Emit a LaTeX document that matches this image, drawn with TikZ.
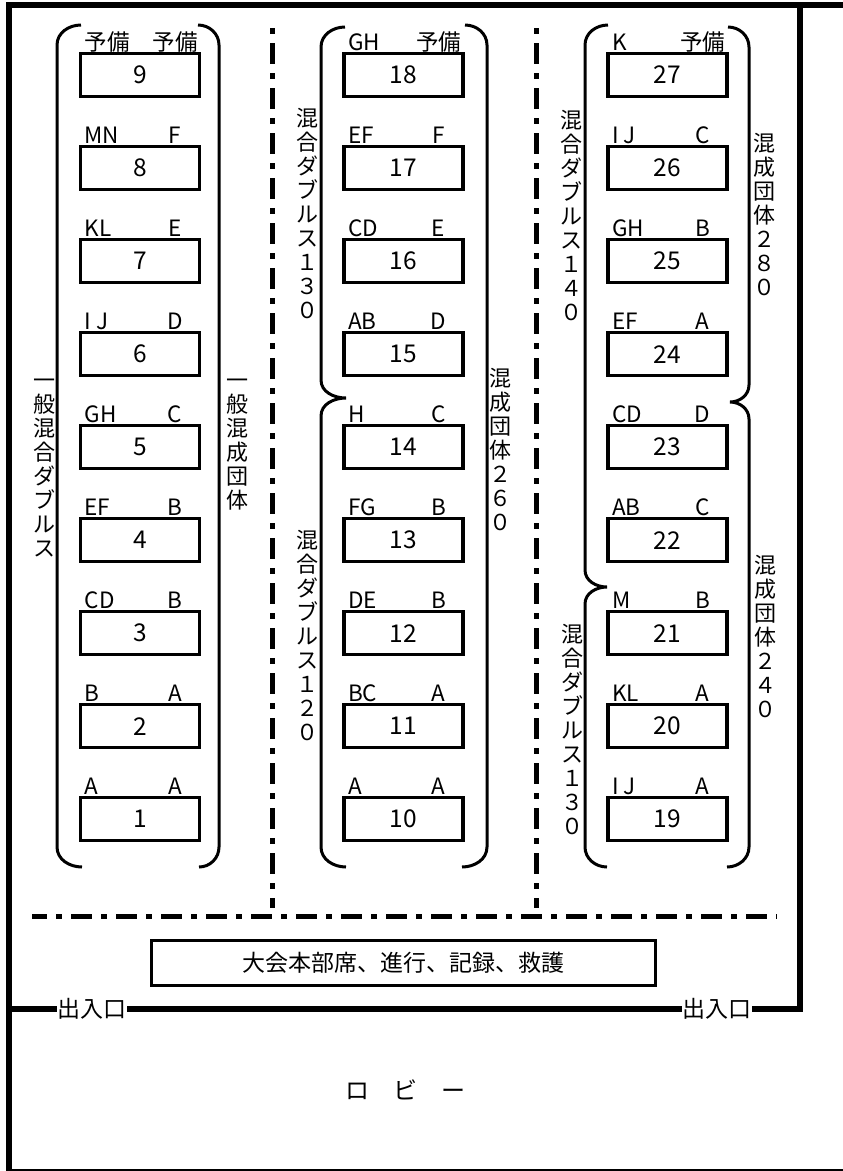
\documentclass[tikz,border=0pt]{standalone}
\usepackage{fontspec}
\setmainfont{Noto Sans CJK JP}
\usetikzlibrary{positioning}

\tikzset{
    court/.style={draw, line width=3.2pt, minimum width=119pt, minimum height=43pt,
        inner sep=0pt, outer sep=0pt, font=\fontsize{24.5}{24.5}\selectfont},
    tagl/.style={anchor=base west, xshift=4pt, yshift=3.5pt, inner sep=0pt,
        font=\fontsize{22.5}{22.5}\selectfont},
    tagr/.style={anchor=base, xshift=35pt, yshift=3.5pt, inner sep=0pt,
        font=\fontsize{22.5}{22.5}\selectfont},
    tags/.style 2 args={label={[tagl]north west:#1}, label={[tagr]north:#2}},
    vtext/.style={align=center, inner sep=0pt, font=\fontsize{22}{24}\selectfont},
    door/.style={inner sep=0.5pt, font=\fontsize{23}{23}\selectfont},
    brace/.style={line width=3pt},
    sepline/.style={line width=5pt, dash pattern=on 6pt off 9pt on 21pt off 9pt},
    wall/.style={line width=6pt},
}

\begin{document}
\begin{tikzpicture}[x=1pt, y=-1pt, node distance=50pt]
    \useasboundingbox (0,0) rectangle (843,1171);

    % courts, left column
    \node[court, tags={予備}{予備}] (c9) at (140,75.1) {9};
    \node[court, tags={MN}{F}, below=of c9] (c8) {8};
    \node[court, tags={KL}{E}, below=of c8] (c7) {7};
    \node[court, tags={I J}{D}, below=of c7] (c6) {6};
    \node[court, tags={GH}{C}, below=of c6] (c5) {5};
    \node[court, tags={EF}{B}, below=of c5] (c4) {4};
    \node[court, tags={CD}{B}, below=of c4] (c3) {3};
    \node[court, tags={B}{A}, below=of c3] (c2) {2};
    \node[court, tags={A}{A}, below=of c2] (c1) {1};

    % courts, middle column
    \node[court, tags={GH}{予備}] (c18) at (403.5,75.1) {18};
    \node[court, tags={EF}{F}, below=of c18] (c17) {17};
    \node[court, tags={CD}{E}, below=of c17] (c16) {16};
    \node[court, tags={AB}{D}, below=of c16] (c15) {15};
    \node[court, tags={H}{C}, below=of c15] (c14) {14};
    \node[court, tags={FG}{B}, below=of c14] (c13) {13};
    \node[court, tags={DE}{B}, below=of c13] (c12) {12};
    \node[court, tags={BC}{A}, below=of c12] (c11) {11};
    \node[court, tags={A}{A}, below=of c11] (c10) {10};

    % courts, right column
    \node[court, tags={K}{予備}] (c27) at (667.5,75.1) {27};
    \node[court, tags={I J}{C}, below=of c27] (c26) {26};
    \node[court, tags={GH}{B}, below=of c26] (c25) {25};
    \node[court, tags={EF}{A}, below=of c25] (c24) {24};
    \node[court, tags={CD}{D}, below=of c24] (c23) {23};
    \node[court, tags={AB}{C}, below=of c23] (c22) {22};
    \node[court, tags={M}{B}, below=of c22] (c21) {21};
    \node[court, tags={KL}{A}, below=of c21] (c20) {20};
    \node[court, tags={I J}{A}, below=of c20] (c19) {19};

    % event names
    \node[vtext] (mix1) at (44,468) {一\\般\\混\\合\\ダ\\ブ\\ル\\ス};
    \node[vtext] (team1) at (237,445) {一\\般\\混\\成\\団\\体};
    \node[vtext] (mix2a) at (307,213) {混\\合\\ダ\\ブ\\ル\\ス\\１\\３\\０};
    \node[vtext] (mix2b) at (307,635) {混\\合\\ダ\\ブ\\ル\\ス\\１\\２\\０};
    \node[vtext] (team2) at (500,449) {混\\成\\団\\体\\２\\６\\０};
    \node[vtext] (mix3a) at (571,215) {混\\合\\ダ\\ブ\\ル\\ス\\１\\４\\０};
    \node[vtext] (mix3b) at (572,729) {混\\合\\ダ\\ブ\\ル\\ス\\１\\３\\０};
    \node[vtext] (team3a) at (764,214) {混\\成\\団\\体\\２\\８\\０};
    \node[vtext] (team3b) at (765,636) {混\\成\\団\\体\\２\\４\\０};

    % brackets
    \draw[brace] (81,25) to[out=180,in=90] (57,45) -- (57,847) to[out=-90,in=180] (82,867);
    \draw[brace] (198,25) to[out=0,in=90] (219,45) -- (219,847) to[out=-90,in=0] (199,867);
    \draw[brace] (345,27) to[out=180,in=90] (321,47) -- (321,380)
        to[out=-90,in=180] (346,398) to[out=180,in=90] (321,416)
        -- (321,847) to[out=-90,in=180] (346,867);
    \draw[brace] (465,25) to[out=0,in=90] (487,45) -- (487,847) to[out=-90,in=0] (462,867);
    \draw[brace] (608,25) to[out=180,in=90] (585,45) -- (585,570)
        to[out=-90,in=180] (607,587) to[out=180,in=90] (585,604)
        -- (585,847) to[out=-90,in=180] (607,867);
    \draw[brace] (728,27) to[out=0,in=90] (749,47) -- (749,385)
        to[out=-90,in=0] (730,402) to[out=0,in=90] (749,419)
        -- (749,847) to[out=-90,in=0] (727,867);

    % dash-dot separators
    \draw[sepline] (272,28) -- (272,908);
    \draw[sepline] (536,28) -- (536,908);
    \draw[sepline, dash phase=21pt] (32,916) -- (777,916);

    % headquarters
    \node[draw, line width=3pt, minimum width=504pt, minimum height=45pt,
        font=\fontsize{23}{23}\selectfont] (hq) at (403.5,963) {大会本部席、進行、記録、救護};

    % walls and doors
    \node[door] (door1) at (92,1009) {出入口};
    \node[door] (door2) at (717,1009) {出入口};
    \draw[wall] (9,1171) -- (9,5) -- (843,5);
    \draw[wall] (9,1009) -- (door1.west);
    \draw[wall] (door1.east) -- (door2.west);
    \draw[wall] (door2.east) -- (800,1009) -- (800,5);
    \draw[line width=2pt] (9,1170) -- (843,1170);

    % lobby
    \node[font=\fontsize{24}{24}\selectfont] (lobby) at (405,1090) {ロ　ビ　ー};
\end{tikzpicture}
\end{document}
